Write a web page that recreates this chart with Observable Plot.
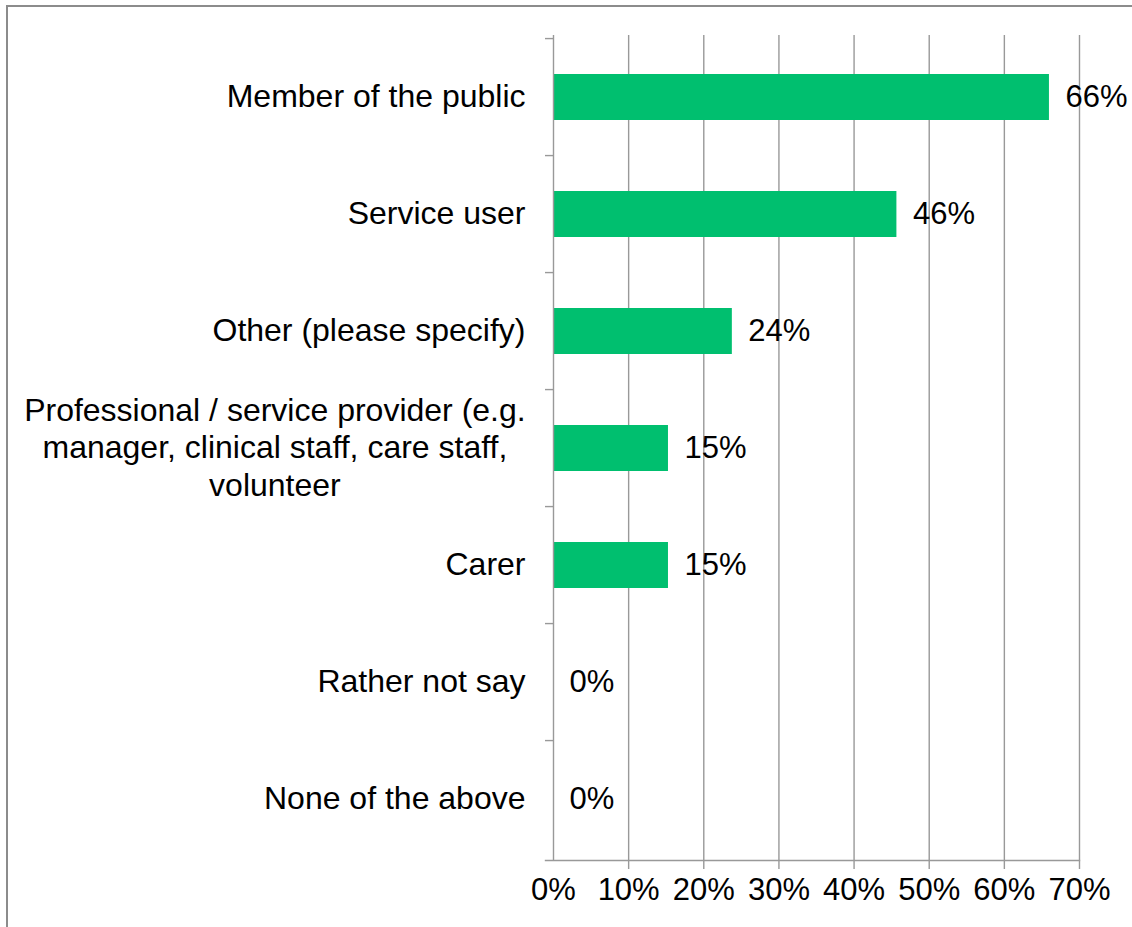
<!DOCTYPE html>
<html>
<head>
<meta charset="utf-8">
<script src="https://cdn.jsdelivr.net/npm/d3@7"></script>
<script src="https://cdn.jsdelivr.net/npm/@observablehq/plot@0.6"></script>
<style>
  html, body { margin: 0; padding: 0; background: #fff; }
  #wrap { position: relative; width: 1132px; height: 927px; overflow: hidden; }
  #border { position: absolute; left: 6px; top: 5px; right: -10px; bottom: -10px;
            border-top: 2px solid #8c8c8c; border-left: 2px solid #8c8c8c; pointer-events: none; }
  svg { display: block; }
</style>
</head>
<body>
<div id="wrap"><div id="chart"></div><div id="border"></div></div>
<script>
// ---- data ----
const categories = [
  "Member of the public",
  "Service user",
  "Other (please specify)",
  "Professional / service provider (e.g.\nmanager, clinical staff, care staff,\nvolunteer",
  "Carer",
  "Rather not say",
  "None of the above"
];
const values = [66.0, 45.7, 23.8, 15.3, 15.3, 0, 0];
const valueLabels = ["66%", "46%", "24%", "15%", "15%", "0%", "0%"];
const xTicks = [0, 10, 20, 30, 40, 50, 60, 70];
const xTickLabels = ["0%", "10%", "20%", "30%", "40%", "50%", "60%", "70%"];

const data = categories.map((c, i) => ({cat: c, value: values[i], label: valueLabels[i]}));
const tickData = xTicks.map((t, i) => ({t, label: xTickLabels[i]}));

// ---- layout ----
const W = 1132, H = 927;
const mTop = 35, mBottom = 67, mLeft = 553, mRight = 53;
const step = (H - mTop - mBottom) / categories.length;
const gridColor = "#999";
const font = "'Liberation Sans', Arial, Helvetica, sans-serif";
const fs = 31;
const fsCat = 32;

const chart = Plot.plot({
  width: W,
  height: H,
  marginTop: mTop,
  marginBottom: mBottom,
  marginLeft: mLeft,
  marginRight: mRight,
  style: {fontFamily: font, fontSize: fs + "px", color: "#000", background: "#fff", overflow: "visible"},
  x: {domain: [0, 70], axis: null},
  y: {domain: categories, axis: null, paddingInner: 0.61, paddingOuter: 0.305},
  marks: [
    // vertical gridlines, extending into tick marks below the axis
    Plot.ruleX(xTicks.slice(1), {stroke: gridColor, strokeWidth: 1.4, insetBottom: -9}),
    // bottom axis line, extended left as the last category tick
    Plot.frame({anchor: "bottom", stroke: gridColor, strokeWidth: 1.4, insetLeft: -8}),
    // category tick marks on the left axis (band boundaries)
    Plot.ruleY(categories, {y: d => d, x1: 0, x2: 0, dy: -step / 2, insetLeft: -8, stroke: gridColor, strokeWidth: 1.4}),
    // bars
    Plot.barX(data, {x: "value", y: "cat", fill: "#00BF6F"}),
    // left axis line
    Plot.ruleX([0], {stroke: gridColor, strokeWidth: 1.4, insetBottom: 0}),
    // value labels
    Plot.text(data, {x: "value", y: "cat", text: "label", textAnchor: "start", dx: 16, fontSize: fs, fill: "#000"}),
    // category labels
    Plot.text(data, {x: 0, y: "cat", text: "cat", textAnchor: "end", dx: -28, dy: -2, fontSize: fsCat, lineHeight: 1.17, fill: "#000"}),
    // x tick labels
    Plot.text(tickData, {x: "t", text: "label", frameAnchor: "bottom", dy: 39, fontSize: fs, fill: "#000"})
  ]
});

document.getElementById("chart").appendChild(chart);

// center multi-line category labels (as wrapped labels are centered in the original)
chart.querySelectorAll("text").forEach(t => {
  const spans = t.querySelectorAll("tspan");
  if (spans.length > 1) {
    const bb = t.getBBox();
    const w = bb.width;
    t.setAttribute("text-anchor", "middle");
    spans.forEach(s => s.setAttribute("x", bb.x + w / 2));
  }
});
</script>
</body>
</html>
